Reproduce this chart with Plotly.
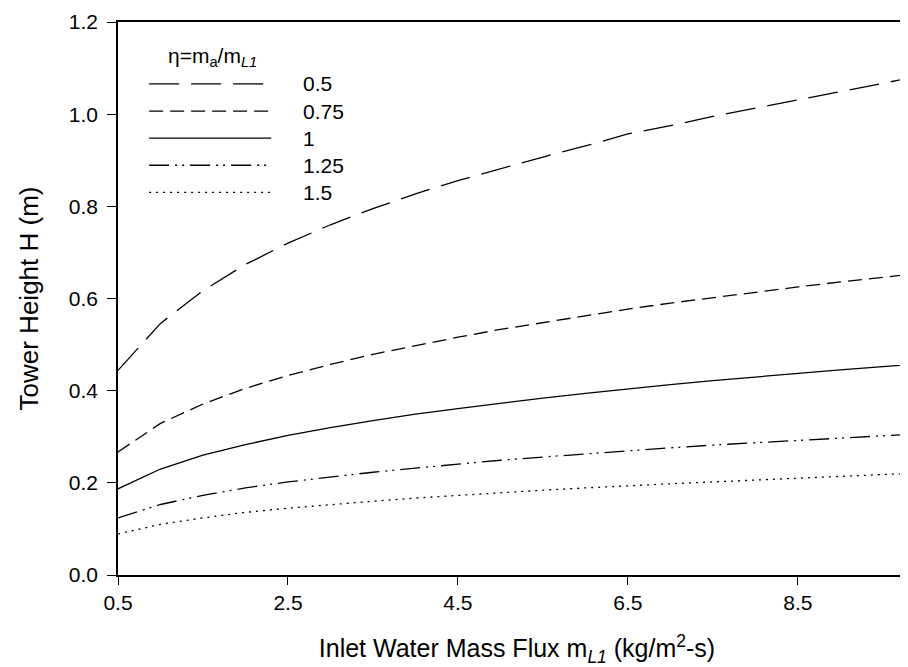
import plotly.graph_objects as go

# Values
mass_flux = [0.5, 1.0, 1.5, 2.0, 2.5, 3.0, 3.5, 4.0, 4.5, 5.0,
             5.5, 6.0, 6.5, 7.0, 7.5, 8.0, 8.5, 9.0, 9.5, 10.0]

h_eta_050 = [0.444, 0.546, 0.617, 0.674, 0.720, 0.760, 0.795, 0.827, 0.856, 0.882,
             0.907, 0.931, 0.957, 0.975, 0.995, 1.013, 1.031, 1.049, 1.067, 1.085]
h_eta_075 = [0.267, 0.329, 0.371, 0.405, 0.433, 0.457, 0.479, 0.498, 0.516, 0.533,
             0.548, 0.563, 0.577, 0.590, 0.602, 0.614, 0.625, 0.636, 0.646, 0.656]
h_eta_100 = [0.187, 0.230, 0.260, 0.283, 0.303, 0.320, 0.335, 0.349, 0.361, 0.373,
             0.384, 0.394, 0.404, 0.413, 0.422, 0.430, 0.438, 0.445, 0.452, 0.459]
h_eta_125 = [0.124, 0.153, 0.173, 0.189, 0.202, 0.213, 0.223, 0.232, 0.241, 0.249,
             0.256, 0.263, 0.270, 0.276, 0.282, 0.287, 0.292, 0.297, 0.302, 0.307]
h_eta_150 = [0.089, 0.110, 0.124, 0.136, 0.145, 0.153, 0.160, 0.167, 0.173, 0.179,
             0.184, 0.189, 0.194, 0.198, 0.202, 0.206, 0.210, 0.214, 0.218, 0.222]

eta_labels = ['0.5', '0.75', '1', '1.25', '1.5']
x_ticks = [0.5, 2.5, 4.5, 6.5, 8.5]
y_ticks = [0.0, 0.2, 0.4, 0.6, 0.8, 1.0, 1.2]

series = [h_eta_050, h_eta_075, h_eta_100, h_eta_125, h_eta_150]
dashes = ['30px,12px', '14px,7px', 'solid',
          '20px,6px,2px,5px,2px,6px', '2px,5px']

FONT = 'Liberation Sans, Arial, sans-serif'

fig = go.Figure()
for label, ys, dash in zip(eta_labels, series, dashes):
    fig.add_trace(go.Scatter(x=mass_flux, y=ys, mode='lines', name=label,
                             line=dict(color='black', width=1.3, dash=dash),
                             showlegend=False))

# hand-drawn legend (long line samples like the original)
legend_rows = [0.888, 0.839, 0.790, 0.741, 0.692]
for label, dash, ly in zip(eta_labels, dashes, legend_rows):
    fig.add_shape(type='line', xref='paper', yref='paper',
                  x0=0.039, x1=0.192, y0=ly, y1=ly,
                  line=dict(color='black', width=1.3, dash=dash))
    fig.add_annotation(xref='paper', yref='paper', x=0.229, y=ly,
                       text=label, showarrow=False, xanchor='left', yanchor='middle',
                       font=dict(size=21, color='black', family=FONT))
fig.add_annotation(xref='paper', yref='paper', x=0.118, y=0.936,
                   text='\u03b7=m<sub>a</sub>/m<sub><i>L1</i></sub>',
                   showarrow=False, xanchor='center', yanchor='middle',
                   font=dict(size=21, color='black', family=FONT))

fig.update_layout(
    width=908, height=667,
    margin=dict(l=110, r=0, t=14, b=100),
    plot_bgcolor='white', paper_bgcolor='white',
    font=dict(family=FONT, color='black', size=21),
)
fig.update_xaxes(range=[0.5, 9.89], tickvals=x_ticks, ticktext=[str(v) for v in x_ticks],
                 ticks='outside', ticklen=8, tickwidth=1, tickcolor='black',
                 ticklabelstandoff=0, automargin=False,
                 showline=True, linecolor='black', linewidth=1.5, mirror=True,
                 showgrid=False, zeroline=False,
                 tickfont=dict(size=21),
                 title=dict(text='Inlet Water Mass Flux m<sub><i>L1</i></sub> (kg/m<sup>2</sup>-s)',
                            font=dict(size=25), standoff=27))
fig.update_yaxes(range=[0, 1.2], tickvals=y_ticks, tickformat='.1f',
                 ticks='outside', ticklen=9, tickwidth=1, tickcolor='black',
                 ticklabelstandoff=5, automargin=False,
                 showline=True, linecolor='black', linewidth=1.5,
                 showgrid=False, zeroline=False,
                 tickfont=dict(size=21),
                 title=dict(text='Tower Height H (m)', font=dict(size=26), standoff=23))

fig.write_html("out.html")
